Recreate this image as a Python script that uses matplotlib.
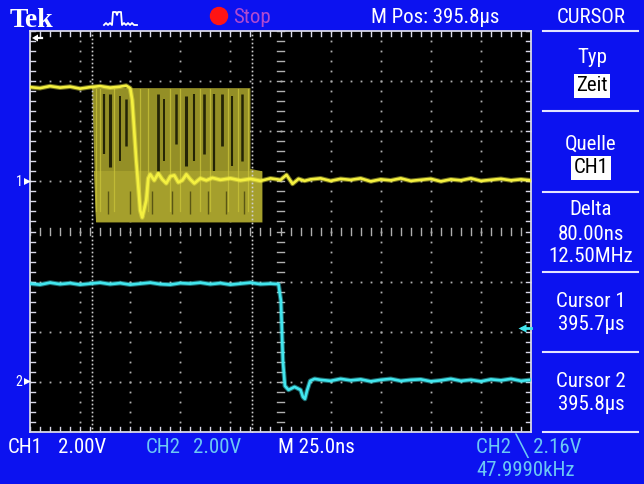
import matplotlib
matplotlib.use("Agg")
import matplotlib.pyplot as plt
from matplotlib import font_manager
from matplotlib.patches import Circle, Polygon
import numpy as np

# ---------------- data (time in ns, voltage in V) ----------------
CH1_t = [-125, -120, -115, -110, -105, -100, -95, -90, -85, -80,
         -77, -75, -74, -72, -70, -69, -67, -66, -65, -63, -61, -59, -57, -55, -53, -51, -49, -47, -45, -43,
         -40, -37, -34, -30, -25, -20, -15, -10, -5, 0,
         3, 6, 9, 12, 15,
         20, 25, 30, 35, 40, 45, 50, 55, 60, 65, 70, 75, 80, 85, 90, 95, 100, 105, 110, 115, 120, 125]
CH1_v = [3.76, 3.72, 3.80, 3.74, 3.78, 3.70, 3.76, 3.80, 3.74, 3.78,
         3.82, 3.72, 3.24, 0.84, -1.16, -1.44, -0.76, 0.12, 0.28, 0.04, 0.32, 0.08, -0.08, 0.20, 0.24, -0.04, 0.04, 0.28, 0.08, -0.08,
         0.12, 0.04, 0.14, 0.06, 0.12, 0.04, 0.10, 0.02, 0.12, 0.06,
         0.26, -0.10, 0.10, 0.02, 0.08,
         0.12, 0.02, 0.10, 0.06, 0.12, 0.00, 0.08, 0.04, 0.12, 0.02, 0.06, 0.10, 0.00, 0.08, 0.04, 0.12, 0.02, 0.06, 0.10, 0.04, 0.08, 0.04]

CH2_t = [-125, -120, -115, -110, -105, -100, -95, -90, -85, -80, -75, -70, -65, -60, -55, -50, -45, -40, -35, -30, -25, -20, -15, -10, -5,
         -1, 0.2, 1.2, 2.2, 4, 7, 10, 11.2, 12.2, 13.2, 14.8, 17,
         20, 25, 30, 35, 40, 45, 50, 55, 60, 65, 70, 75, 80, 85, 90, 95, 100, 105, 110, 115, 120, 125]
CH2_v = [3.92, 3.88, 3.96, 3.90, 3.94, 3.88, 3.92, 3.96, 3.90, 3.94, 3.88, 3.92, 3.96, 3.90, 3.88, 3.94, 3.92, 3.96, 3.90, 3.94, 3.88, 3.92, 3.96, 3.90, 3.92,
         3.90, 3.24, 0.84, -0.16, -0.32, -0.20, -0.32, -0.60, -0.68, -0.36, 0.04, 0.12,
         0.08, 0.04, 0.12, 0.06, 0.10, 0.02, 0.08, 0.12, 0.04, 0.08, 0.10, 0.02, 0.06, 0.12, 0.04, 0.08, 0.02, 0.10, 0.06, 0.12, 0.04, 0.08]

# persistence envelope of CH1 (older acquisitions)
BAND_t = [-94, -15, -15, -9, -9, -92]
BAND_v = [3.72, 3.72, 0.50, 0.40, -1.64, -1.64]
BAND_LOW_t = [-93, -9, -9, -92]
BAND_LOW_v = [0.40, 0.40, -1.64, -1.64]
GAP_t = [-88, -85, -80, -77, -61, -58, -52, -47, -43, -38, -33, -29, -24, -19]
GAP_top = [3.5, 3.5, 3.4, 3.3, 3.5, 3.3, 3.5, 3.4, 3.5, 3.5, 3.5, 3.5, 3.4, 3.5]
GAP_bot = [1.1, 0.56, 0.8, 1.4, 0.4, 0.8, 1.5, 0.6, 0.8, 1.1, 0.4, 1.4, 0.6, 0.8]
GAP_w = [1.6, 2.2, 1.4, 1.8, 2.0, 1.4, 1.8, 2.2, 1.5, 1.9, 1.6, 2.0, 1.5, 1.8]
STREAK_t = [-92, -90, -83, -70, -66, -55, -50, -40, -35, -26, -21, -16]
LOW_DARK_t = [-86, -75, -64, -54, -45, -36, -27, -18]

CH1_POS = 1.0      # divisions
CH2_POS = -3.0
VOLTS_PER_DIV = 2.0
NS_PER_DIV = 25.0
CURSOR_t = [-94.25, -14.25]
TRIG_LEVEL = 2.16  # V on CH2

# ---------------- style ----------------
BLUE = "#0c12f0"
YEL = "#f4f040"
CYAN = "#42e6ee"
CH2TXT = "#6cc8f4"
GRID = "#b0b0b0"

names = {f.name for f in font_manager.fontManager.ttflist}
narrow = next((n for n in ["Liberation Sans Narrow", "Roboto Condensed", "Open Sans Condensed",
                           "Liberation Sans"] if n in names), "DejaVu Sans")
FAM = [narrow, "DejaVu Sans"]
SERIF = ["Liberation Serif", "DejaVu Serif"]

W, H = 644, 484
fig = plt.figure(figsize=(W / 100, H / 100), dpi=100)
fig.patch.set_facecolor(BLUE)

L, T, R, B = 30, 31, 531, 432
ax = fig.add_axes([L / W, 1 - B / H, (R - L) / W, (B - T) / H])
ax.set_facecolor("black")
ax.set_xlim(-5 * NS_PER_DIV, 5 * NS_PER_DIV)
ax.set_ylim(-4, 4)
ax.set_xticks([])
ax.set_yticks([])
for s in ax.spines.values():
    s.set_color("#d8d8e8")
    s.set_linewidth(1.3)

# graticule dots
sub_x = np.linspace(-125, 125, 51)
sub_y = np.linspace(-4, 4, 41)
for d in range(-4, 5):
    if d == 0:
        continue
    xg = d * NS_PER_DIV
    ax.plot(np.full_like(sub_y, xg), sub_y, ls="none", marker="s", ms=1.3, mec="none", mfc=GRID, zorder=1)
for d in range(-3, 4):
    if d == 0:
        continue
    ax.plot(sub_x, np.full_like(sub_x, d), ls="none", marker="s", ms=1.3, mec="none", mfc=GRID, zorder=1)
# center cross with ticks
for xv in sub_x:
    ax.plot([xv, xv], [-0.07, 0.07], color=GRID, lw=1.0, zorder=1)
for yv in sub_y:
    ax.plot([-1.75, 1.75], [yv, yv], color=GRID, lw=1.0, zorder=1)
# edge ticks
for xv in sub_x:
    ax.plot([xv, xv], [4, 3.9], color="#d8d8e8", lw=1.0, zorder=1)
    ax.plot([xv, xv], [-4, -3.9], color="#d8d8e8", lw=1.0, zorder=1)
for yv in sub_y:
    ax.plot([-125, -122.5], [yv, yv], color="#d8d8e8", lw=1.0, zorder=1)
    ax.plot([125, 122.5], [yv, yv], color="#d8d8e8", lw=1.0, zorder=1)

def ch1(v):
    return np.asarray(v, float) / VOLTS_PER_DIV + CH1_POS

def ch2(v):
    return np.asarray(v, float) / VOLTS_PER_DIV + CH2_POS

# persistence band
ax.add_patch(Polygon(np.column_stack([BAND_t, ch1(BAND_v)]), closed=True, fc="#948f26", ec="none", zorder=2))
ax.add_patch(Polygon(np.column_stack([BAND_LOW_t, ch1(BAND_LOW_v)]), closed=True, fc="#a59f2c", ec="none", zorder=2))
for t, a, b, w in zip(GAP_t, GAP_top, GAP_bot, GAP_w):
    ax.plot([t, t], ch1([a, b]), color="#242406", lw=w, solid_capstyle="butt", zorder=2.2)
for t in LOW_DARK_t:
    ax.plot([t, t], ch1([-0.4, -1.3]), color="#5a5614", lw=1.0, solid_capstyle="butt", zorder=2.2)
for t in STREAK_t:
    ax.plot([t, t], ch1([3.7, -1.2]), color="#c8c238", lw=0.9, alpha=0.8, zorder=2.3)

# cursors
cy = np.linspace(-4, 4, 101)
for ct in CURSOR_t:
    ax.plot(np.full_like(cy, ct), cy, ls="none", marker="s", ms=1.2, mec="none", mfc="#d0d0d0", zorder=2.5)

# traces (soft halo + core to mimic the fuzzy phosphor look)
for tt, vv, col in [(CH1_t, ch1(CH1_v), YEL), (CH2_t, ch2(CH2_v), CYAN)]:
    ax.plot(tt, vv, color=col, lw=3.4, alpha=0.45, zorder=3, solid_joinstyle="round")
    ax.plot(tt, vv, color=col, lw=1.9, zorder=3.1, solid_joinstyle="round")

# trigger level marker
ty = TRIG_LEVEL / VOLTS_PER_DIV + CH2_POS
ax.plot([120.5, 125], [ty, ty], color=CYAN, lw=2.0, zorder=4, clip_on=False)
ax.plot([120.5], [ty], marker="<", ms=6, color=CYAN, mec="none", zorder=4, clip_on=False)

# ---------------- overlay (pixel coordinates) ----------------
ov = fig.add_axes([0, 0, 1, 1], zorder=5)
ov.set_xlim(0, W)
ov.set_ylim(H, 0)
ov.axis("off")

def txt(x, y, s, size=15, color="white", ha="center", fam=FAM, **kw):
    ov.text(x, y, s, fontsize=size, color=color, ha=ha, va="baseline", family=fam, **kw)

# header
txt(10, 27, "Tek", size=20, ha="left", fam=SERIF, fontweight="bold")
icon_x = [104, 106, 108, 110, 112, 113, 116, 117, 118, 121, 122, 124, 126, 128, 130, 132, 134, 137]
icon_y = [25, 23, 25, 23, 25, 12, 12, 15, 12, 12, 25, 23, 25, 23, 25, 23, 25, 25]
ov.plot(icon_x, icon_y, color="white", lw=1.3)
ov.add_patch(Circle((219, 16), 8.5, color="#ff1414"))
txt(233, 23, "Stop", ha="left", color="#b04ad0")
txt(435, 23, "M Pos: 395.8µs")
txt(591, 23, "CURSOR")

# right panel
for yl in [31, 111, 192, 272, 352, 432]:
    ov.plot([543, 638], [yl, yl], color="#e4e4ff", lw=1.5)
txt(592, 63, "Typ")
txt(592, 91, "Zeit", color="black", bbox=dict(boxstyle="square,pad=0.12", fc="white", ec="none"))
txt(591, 150, "Quelle")
txt(591, 173, "CH1", color="black", bbox=dict(boxstyle="square,pad=0.12", fc="white", ec="none"))
txt(591, 215, "Delta")
txt(591, 240, "80.00ns")
txt(591, 262, "12.50MHz")
txt(591, 307, "Cursor 1")
txt(591, 330, "395.7µs")
txt(591, 387, "Cursor 2")
txt(591, 410, "395.8µs")

# bottom row
txt(8, 453, "CH1", ha="left")
txt(58, 453, "2.00V", ha="left")
txt(146, 453, "CH2", ha="left", color=CH2TXT)
txt(193, 453, "2.00V", ha="left", color=CH2TXT)
txt(278, 453, "M 25.0ns", ha="left")
txt(476, 453, "CH2 ╲ 2.16V", ha="left", color=CH2TXT)
txt(476, 476, "47.9990kHz", ha="left", color=CH2TXT)

# channel markers on the left
for lab, pos in [("1", CH1_POS), ("2", CH2_POS)]:
    py = (T + B) / 2 - pos * 50
    ov.text(19, py, lab, fontsize=10, color="white", ha="center", va="center", family=FAM)
    ov.add_patch(Polygon([[24, py - 3.5], [31, py], [24, py + 3.5]], closed=True, fc="white", ec="none"))

# trigger position indicator (top-left)
ov.add_patch(Polygon([[32, 38], [38, 34.5], [38, 41.5]], closed=True, fc="white", ec="none"))
ov.plot([37, 42], [38, 38], color="white", lw=1.6)

fig.savefig("out.png", dpi=100, facecolor=BLUE)
